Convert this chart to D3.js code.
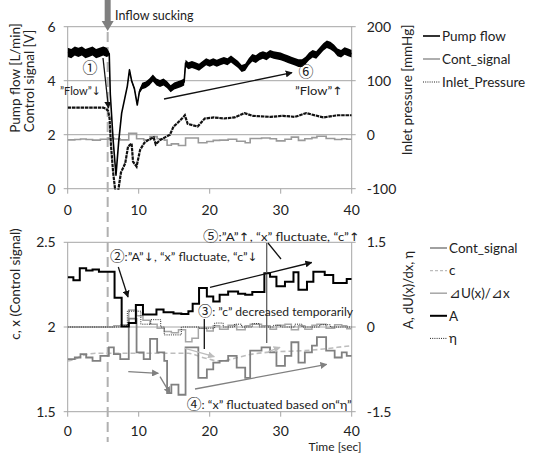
<!DOCTYPE html>
<html>
<head>
<meta charset="utf-8">
<script src="https://cdn.jsdelivr.net/npm/d3@7"></script>
<style>
  body { margin: 0; background: #fff; }
  text { font-family: Lato, "Noto Sans", sans-serif; fill: #222; }
  .sym { font-family: "DejaVu Sans"; }
  .circ { font-family: "Noto Sans CJK JP"; }
</style>
</head>
<body>
<svg id="chart" width="535" height="453"></svg>
<script>
// ---- data ----
const timeTicks = [0, 10, 20, 30, 40];
const flowTicks = [0, 2, 4, 6];
const pressTicks = [-100, 0, 100, 200];
const cxTicks = [1.5, 2, 2.5];
const aTicks = [-1.5, 0, 1.5];

const pumpT = [0,0.5,1,1.5,2,2.5,3,3.5,4,4.5,5,5.5,5.85,6.0,6.4,6.8,7.2,7.6,8.0,8.4,8.7,9.0,9.4,9.8,10.1,10.5,11,11.5,12,12.5,13,13.5,14,14.5,15,15.5,16,16.4,16.6,17,17.5,18,18.5,19,19.5,20,20.5,21,21.5,22,22.5,23,23.5,24,24.5,25,25.5,26,26.5,27,27.5,28,28.5,29,30,30.5,31,31.5,32,32.5,33,33.5,34,34.5,35,35.5,36,36.5,37,37.5,38,38.5,39,39.5,40];
const pumpFlow = [5.05,5.0,5.1,5.05,5.1,5.0,5.05,5.1,5.0,5.05,5.1,5.05,5.0,3.5,1.8,0.5,1.8,2.8,3.3,3.8,4.4,4.0,3.7,3.1,3.6,3.8,3.85,3.95,4.1,3.95,3.9,3.95,3.85,3.7,3.8,3.85,3.9,3.95,4.65,4.55,4.6,4.55,4.5,4.6,4.7,4.65,4.7,4.65,4.7,4.75,4.7,4.8,4.7,4.6,4.45,4.5,4.7,4.85,4.8,4.9,4.95,4.9,5.0,4.95,4.9,4.85,4.8,4.75,4.7,4.65,4.65,4.75,4.9,5.0,4.95,5.1,5.25,5.35,5.3,5.2,5.05,5.0,5.1,5.05,5.0];
// half-width of the noisy band around the pump flow trace (L/min)
const pumpNoise = [0.17,0.17,0.17,0.17,0.17,0.17,0.17,0.17,0.17,0.17,0.17,0.17,0.06,0,0,0,0,0,0,0.03,0.05,0.05,0.05,0.03,0.08,0.12,0.12,0.13,0.13,0.13,0.13,0.13,0.13,0.13,0.13,0.13,0.13,0.13,0.13,0.13,0.13,0.13,0.13,0.13,0.13,0.13,0.13,0.13,0.13,0.13,0.13,0.13,0.13,0.13,0.13,0.13,0.13,0.14,0.14,0.14,0.14,0.14,0.14,0.14,0.14,0.14,0.14,0.14,0.14,0.14,0.14,0.14,0.14,0.14,0.14,0.14,0.14,0.14,0.14,0.14,0.14,0.14,0.14,0.14,0.14];

const pressT = [0,5.0,5.4,5.7,5.9,6.1,6.4,6.8,7.1,7.5,8.1,8.5,9.0,9.2,9.7,10.2,10.8,11.3,12.1,12.4,13,13.7,14.4,14.9,15.5,16.3,16.5,16.9,18.3,19.3,20.6,22,23.5,24.9,26,28.6,30.3,32,33.6,36,38,40];
const inletPressure = [50,50,48,44,30,-20,-70,-115,-105,-70,-53,-22,-16,-50,-59,-28,-15,-10,-5,-18,-10,-5,0,15,22,33,36,20,15,30,32,30,32,40,35,33,35,33,40,32,36,36];

// step series: value holds from its time until the next one
const stepT = [0,1.0,1.8,2.6,3.5,4.6,5.8,6.5,7.4,8.6,9.7,10.7,11.6,12.6,13.6,14.0,14.6,15.6,16.6,18.4,19.6,20.5,21.4,22.6,23.8,25.0,25.7,27.3,28.5,29.4,30.6,31.5,32.5,33.4,34.4,35.1,36.4,37.6,38.6,39.3,40];
const contSignal = [1.81,1.82,1.84,1.82,1.80,1.83,1.88,1.84,1.81,2.05,1.85,1.81,1.93,1.85,1.80,1.61,1.66,1.60,1.88,1.70,1.75,1.79,1.80,1.83,1.76,1.70,1.86,1.88,1.85,1.77,1.83,1.91,1.79,1.85,1.89,1.94,1.86,1.82,1.85,1.83,1.83];

const dUT = [0,6.5,7.5,8.6,9.7,10.6,11.6,12.6,13.6,14.6,15.6,16.6,17.5,18.4,19.6,20.5,21.4,22.6,23.8,25.0,25.7,27.3,28.5,29.4,30.6,31.5,32.5,33.4,34.4,35.1,36.4,37.6,38.6,39.3,40];
const dUdx = [0,0.02,0.04,0.3,0.2,0.12,0.05,-0.02,-0.08,-0.1,-0.05,-0.26,-0.2,-0.02,-0.07,0.02,-0.04,0.03,-0.05,0.02,0.05,0.02,-0.04,0.03,0.05,-0.05,0.02,-0.04,0.03,0.05,-0.02,0.04,0.02,-0.03,-0.03];

const cT = [0,1,2,3,4,17,18,19,20,21,22,23,24,26,28,30,33,36,38,40];
const cValue = [1.80,1.81,1.83,1.84,1.845,1.845,1.835,1.82,1.81,1.80,1.80,1.81,1.82,1.84,1.85,1.855,1.86,1.87,1.88,1.89];

const aT = [0,0.8,1.7,2.6,3.5,4.4,6.6,7.6,8.6,9.6,10.6,12.5,13.5,14.9,16.0,17.0,17.6,18.5,19.6,20.5,21.4,22.6,24.0,25.0,26.0,27.7,28.5,29.4,30.6,31.8,32.5,33.7,34.6,36.2,37.4,39.3,40];
const aValue = [0.88,0.83,1.04,1.0,1.02,0.98,0.52,0.01,0.07,0.39,0.22,0.31,0.26,0.24,0.23,0.28,0.41,0.69,0.54,0.45,0.57,0.63,0.59,0.57,0.62,0.95,0.89,0.72,0.8,0.97,0.66,0.8,0.98,0.92,0.78,0.85,0.85];

const etaT = [0,7.5,8.4,10.3,11.7,13.1,13.6,14.6,16,18.5,20.7,21.9,23.5,24.5,26,27,29,30,32,33,35.5,37,40];
const etaValue = [0,0.02,0.28,0.05,0.13,0,-0.14,-0.14,0,-0.02,0.07,0,0.05,0,0.06,0,0.03,0,0.05,0,0.04,0,0];

const suckingTime = 5.63;

// ---- layout ----
const svg = d3.select('#chart');
const left = 67.7, right = 351.7;
const topPanel = { y0: 26.7, y1: 188.7, labelGap: 21 };
const botPanel = { y0: 242.3, y1: 411.7, labelGap: 19.5 };
const gridColor = '#a6a6a6';

const x = d3.scaleLinear().domain([0, 40]).range([left, right]);
const yFlow = d3.scaleLinear().domain([0, 6]).range([topPanel.y1, topPanel.y0]);
const yPress = d3.scaleLinear().domain([-100, 200]).range([topPanel.y1, topPanel.y0]);
const yCx = d3.scaleLinear().domain([1.5, 2.5]).range([botPanel.y1, botPanel.y0]);
const yA = d3.scaleLinear().domain([-1.5, 1.5]).range([botPanel.y1, botPanel.y0]);

const defs = svg.append('defs');
[['clipTop', topPanel], ['clipBot', botPanel]].forEach(([id, p]) => {
  defs.append('clipPath').attr('id', id).append('rect')
    .attr('x', left).attr('y', p.y0 - 1).attr('width', right - left).attr('height', p.y1 - p.y0 + 2);
});
[['arrBlack', '#111'], ['arrGray', '#808080'], ['arrLight', '#bdbdbd']].forEach(([id, c]) => {
  defs.append('marker').attr('id', id).attr('viewBox', '0 0 10 10')
    .attr('refX', 9).attr('refY', 5).attr('markerWidth', 7).attr('markerHeight', 7)
    .attr('markerUnits', 'userSpaceOnUse').attr('orient', 'auto')
    .append('path').attr('d', 'M0,0L10,5L0,10z').attr('fill', c);
});

function frame(p, yL, lTicks, lFmt, yR, rTicks) {
  const g = svg.append('g');
  lTicks.forEach(v => {
    g.append('line').attr('x1', left - 4).attr('x2', right + 4)
      .attr('y1', yL(v)).attr('y2', yL(v)).attr('stroke', gridColor).attr('stroke-width', 1);
    g.append('text').attr('x', left - 12).attr('y', yL(v)).attr('dy', '0.35em')
      .attr('text-anchor', 'end').style('font-size', '14px').text(lFmt(v));
  });
  rTicks.forEach(v => {
    g.append('text').attr('x', right + 15).attr('y', yR(v)).attr('dy', '0.35em')
      .style('font-size', '14px').text(v);
  });
  g.append('line').attr('x1', left).attr('x2', left).attr('y1', p.y0).attr('y2', p.y1).attr('stroke', gridColor);
  g.append('line').attr('x1', right).attr('x2', right).attr('y1', p.y0).attr('y2', p.y1).attr('stroke', gridColor);
  timeTicks.forEach(t => {
    g.append('line').attr('x1', x(t)).attr('x2', x(t)).attr('y1', p.y1).attr('y2', p.y1 + 5).attr('stroke', gridColor);
    g.append('text').attr('x', x(t)).attr('y', p.y1 + p.labelGap).attr('dy', '0.35em')
      .attr('text-anchor', 'middle').style('font-size', '14px').text(t);
  });
}
frame(topPanel, yFlow, flowTicks, d => d, yPress, pressTicks);
frame(botPanel, yCx, cxTicks, d3.format('.1~f'), yA, aTicks);

// sucking marker: dashed vertical line + gray arrow
svg.append('line').attr('x1', x(suckingTime)).attr('x2', x(suckingTime))
  .attr('y1', 32).attr('y2', 442).attr('stroke', '#b0b0b0').attr('stroke-width', 2)
  .attr('stroke-dasharray', '10,5');
svg.append('path')
  .attr('d', `M${x(suckingTime) - 3},0V21H${x(suckingTime) - 6}L${x(suckingTime)},31L${x(suckingTime) + 6},21H${x(suckingTime) + 3}V0Z`)
  .attr('fill', '#7f7f7f');
svg.append('text').attr('x', 115).attr('y', 16).attr('dy', '0.35em')
  .style('font-size', '12.5px').text('Inflow sucking');

// ---- top panel series ----
const gTop = svg.append('g').attr('clip-path', 'url(#clipTop)');
const lineOf = (ts, vs, ys, curve) => d3.line()
  .x((d, i) => x(ts[i])).y(d => ys(d)).curve(curve || d3.curveLinear)(vs);

gTop.append('path').attr('d', lineOf(stepT, contSignal, yFlow, d3.curveStepAfter))
  .attr('fill', 'none').attr('stroke', '#9a9a9a').attr('stroke-width', 1.6);
gTop.append('path').attr('d', lineOf(pressT, inletPressure, yPress))
  .attr('fill', 'none').attr('stroke', '#111').attr('stroke-width', 2.2)
  .attr('stroke-dasharray', '3.5,0.8');
const pumpBand = d3.area()
  .x((d, i) => x(pumpT[i]))
  .y0((d, i) => yFlow(d - pumpNoise[i]))
  .y1((d, i) => yFlow(d + pumpNoise[i]));
gTop.append('path').attr('d', pumpBand(pumpFlow)).attr('fill', '#000');
gTop.append('path').attr('d', lineOf(pumpT, pumpFlow, yFlow))
  .attr('fill', 'none').attr('stroke', '#000').attr('stroke-width', 1.6)
  .attr('stroke-linejoin', 'round');

// ---- bottom panel series ----
const gBot = svg.append('g').attr('clip-path', 'url(#clipBot)');
gBot.append('path').attr('d', lineOf(dUT, dUdx, yA, d3.curveStepAfter))
  .attr('fill', 'none').attr('stroke', '#a6a6a6').attr('stroke-width', 1.5);
gBot.append('path').attr('d', lineOf(etaT, etaValue, yA, d3.curveStepAfter))
  .attr('fill', 'none').attr('stroke', '#222').attr('stroke-width', 1).attr('stroke-dasharray', '1,1.2');
gBot.append('path').attr('d', lineOf(cT, cValue, yCx, d3.curveMonotoneX))
  .attr('fill', 'none').attr('stroke', '#bdbdbd').attr('stroke-width', 1.6).attr('stroke-dasharray', '5,3');
gBot.append('path').attr('d', lineOf(stepT, contSignal, yCx, d3.curveStepAfter))
  .attr('fill', 'none').attr('stroke', '#808080').attr('stroke-width', 1.8);
gBot.append('path').attr('d', lineOf(aT, aValue, yA, d3.curveStepAfter))
  .attr('fill', 'none').attr('stroke', '#000').attr('stroke-width', 2);

// ---- axis titles ----
function vtext(cx, cy, s, size) {
  svg.append('text').attr('transform', `translate(${cx},${cy}) rotate(-90)`)
    .attr('text-anchor', 'middle').attr('dy', '0.35em').style('font-size', size + 'px').text(s);
}
vtext(15, 78, 'Pump flow [L/min]', 13.5);
vtext(29, 81, 'Control signal [V]', 13.5);
vtext(407, 90, 'Inlet pressure [mmHg]', 13.5);
vtext(15, 284, 'c, x (Control signal)', 13.5);
vtext(408, 290, 'A, dU(x)/dx, η', 13);
svg.append('text').attr('x', 335).attr('y', 447).attr('dy', '0.35em')
  .attr('text-anchor', 'middle').style('font-size', '12px').text('Time [sec]');

// ---- legends ----
const legTop = [
  { name: 'Pump flow', color: '#333', width: 2, dash: null },
  { name: 'Cont_signal', color: '#9a9a9a', width: 1.6, dash: null },
  { name: 'Inlet_Pressure', color: '#222', width: 1, dash: '1,1.2' }
];
legTop.forEach((d, i) => {
  const y = 36 + i * 23;
  svg.append('line').attr('x1', 423).attr('x2', 440).attr('y1', y).attr('y2', y)
    .attr('stroke', d.color).attr('stroke-width', d.width).attr('stroke-dasharray', d.dash);
  svg.append('text').attr('x', 442).attr('y', y).attr('dy', '0.35em').style('font-size', '13.5px').text(d.name);
});
const legBot = [
  { name: 'Cont_signal', color: '#808080', width: 1.5, dash: null },
  { name: 'c', color: '#bdbdbd', width: 1.4, dash: '3,2' },
  { name: '⊿U(x)/⊿x', color: '#a6a6a6', width: 1.5, dash: null },
  { name: 'A', color: '#000', width: 2, dash: null },
  { name: 'η', color: '#222', width: 1, dash: '1,1.2' }
];
legBot.forEach((d, i) => {
  const y = 248 + i * 22.6;
  svg.append('line').attr('x1', 430).attr('x2', 447).attr('y1', y).attr('y2', y)
    .attr('stroke', d.color).attr('stroke-width', d.width).attr('stroke-dasharray', d.dash);
  svg.append('text').attr('x', 449).attr('y', y).attr('dy', '0.35em').style('font-size', '13.5px').text(d.name);
});

// ---- annotations ----
// arrows and circled digits get their own fonts so no colour emoji is used
function note(px, py, s, size, len) {
  const t = svg.append('text').attr('x', px).attr('y', py).attr('dy', '0.35em')
    .style('font-size', size + 'px');
  const runs = s.match(/[↑↓]|[①-⑩]|[^↑↓①-⑩]+/g);
  runs.forEach(r => {
    const sp = t.append('tspan').text(r);
    if (/[↑↓]/.test(r)) sp.attr('class', 'sym');
    else if (/[①-⑩]/.test(r)) sp.attr('class', 'circ').style('font-size', (size + 2) + 'px');
  });
  if (len) t.attr('textLength', len).attr('lengthAdjust', 'spacingAndGlyphs');
}
function arrow(x1, y1, x2, y2, color, marker) {
  const l = svg.append('line').attr('x1', x1).attr('y1', y1).attr('x2', x2).attr('y2', y2)
    .attr('stroke', color).attr('stroke-width', 1.3);
  if (marker) l.attr('marker-end', `url(#${marker})`);
}
note(82.5, 68, '①', 13);
note(60, 91, '”Flow”↓', 11.5, 41);
arrow(103, 58, 108.5, 108, '#111', 'arrBlack');
arrow(164, 99, 292, 72.7, '#111', 'arrBlack');
note(298.5, 72.5, '⑥', 13);
note(295, 90.7, '”Flow”↑', 11.5, 48);

note(110, 257.3, '②:”A”↓, “x” fluctuate, “c”↓', 11.5, 148);
arrow(118.3, 267, 128, 297, '#111', 'arrBlack');
note(203, 236.7, '⑤:”A”↑, “x” fluctuate, “c”↑', 11.5, 157);
arrow(266.7, 243, 266.7, 343, '#606060', null);
arrow(268, 243, 281, 259, '#111', null);
arrow(210, 287.3, 311.7, 262.5, '#111', 'arrBlack');
note(198, 312.3, '③: ”c” decreased temporarily', 11.5, 155);
arrow(204.3, 319, 204.3, 349, '#111', null);
arrow(185, 348.3, 214.3, 356.7, '#bdbdbd', 'arrLight');
arrow(268.3, 351.7, 280, 347.3, '#bdbdbd', 'arrLight');
arrow(128.3, 371.7, 158.3, 373.3, '#808080', 'arrGray');
arrow(160, 376.7, 170, 393.3, '#808080', 'arrGray');
arrow(195, 389, 326.7, 364.3, '#808080', 'arrGray');
note(186.7, 405, '④: “x” fluctuated based on“η”', 11.5, 165);
</script>
</body>
</html>
